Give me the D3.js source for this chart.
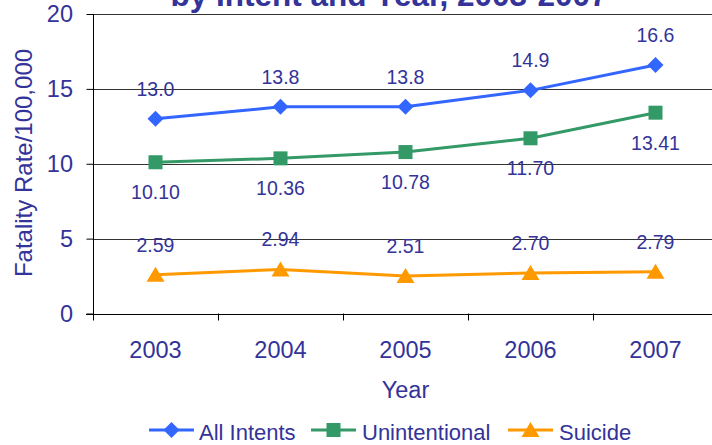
<!DOCTYPE html>
<html><head><meta charset="utf-8">
<script src="https://cdn.jsdelivr.net/npm/d3@7"></script>
<style>body{margin:0;background:#fff}svg{display:block;font-family:"Liberation Sans",Arial,sans-serif}</style>
</head><body><svg id="c" width="712" height="445"></svg>
<script>
const years = ["2003","2004","2005","2006","2007"];
const allIntents = [13.0, 13.8, 13.8, 14.9, 16.6];
const unintentional = [10.10, 10.36, 10.78, 11.70, 13.41];
const suicide = [2.59, 2.94, 2.51, 2.70, 2.79];
const allLabels = ["13.0","13.8","13.8","14.9","16.6"];
const unLabels = ["10.10","10.36","10.78","11.70","13.41"];
const suLabels = ["2.59","2.94","2.51","2.70","2.79"];
const yTicks = [0,5,10,15,20];

const txt = "#333399";
const FF = "Liberation Sans, Arial, sans-serif";
const svg = d3.select("#c");
const x = d3.scaleBand().domain(years).range([93, 718]);
const y = d3.scaleLinear().domain([0,20]).range([313.5, 14]);

// title (partly cut off at top, as in the reference)
svg.append("text").attr("x",389).attr("y",6).attr("text-anchor","middle")
  .attr("font-weight","bold").attr("font-size",31.5).attr("fill",txt)
  .text("by Intent and Year, 2003-2007");

// gridlines
svg.append("g").selectAll("line").data(yTicks.filter(d=>d>0)).join("line")
  .attr("x1",93).attr("x2",712).attr("y1",d=>Math.round(y(d))+0.5).attr("y2",d=>Math.round(y(d))+0.5)
  .attr("stroke","#333").attr("stroke-width",1);

// y axis
const ya = svg.append("g").attr("transform","translate(93.5,0)")
  .call(d3.axisLeft(y).tickValues(yTicks).tickSize(7).tickPadding(13.5).tickFormat(d3.format("d")));
ya.select(".domain").remove();
ya.append("line").attr("y1",y(20)).attr("y2",320).attr("stroke","#000");
ya.selectAll(".tick line").attr("stroke","#000");
ya.selectAll(".tick text").attr("fill",txt).attr("font-size",23.5).attr("font-family",FF);

// x axis
const xa = svg.append("g").attr("transform",`translate(0,${Math.round(y(0))+0.5})`)
  .call(d3.axisBottom(x).tickSize(0).tickPadding(27));
xa.select(".domain").attr("d","M86,0H712").attr("stroke","#000");
xa.selectAll(".tick text").attr("fill",txt).attr("font-size",23.5).attr("font-family",FF);
svg.append("g").selectAll("line").data(years).join("line")
  .attr("x1",d=>Math.round(x(d))+0.5).attr("x2",d=>Math.round(x(d))+0.5)
  .attr("y1",y(0)).attr("y2",y(0)+7).attr("stroke","#000");

// axis titles
svg.append("text").attr("x",405.5).attr("y",398).attr("text-anchor","middle")
  .attr("font-size",23.5).attr("fill",txt).text("Year");
svg.append("text").attr("transform","translate(32,163) rotate(-90)").attr("text-anchor","middle")
  .attr("font-size",24).attr("fill",txt).text("Fatality Rate/100,000");

const cx = d => x(d) + x.bandwidth()/2;
const series = [
  {vals: allIntents, labels: allLabels, color:"#3366FF", sym:"diamond", off:-30},
  {vals: unintentional, labels: unLabels, color:"#339966", sym:"square", off:30},
  {vals: suicide, labels: suLabels, color:"#FF9900", sym:"triangle", off:-30}
];
function marker(g, sym, color){
  if(sym==="diamond") g.append("path").attr("d","M0,-8L8,0L0,8L-8,0Z").attr("fill",color);
  else if(sym==="square") g.append("rect").attr("x",-7).attr("y",-7).attr("width",14).attr("height",14).attr("fill",color);
  else g.append("path").attr("d","M0,-8L9,7L-9,7Z").attr("fill",color);
}
const line = d3.line().x((d,i)=>cx(years[i])).y(d=>y(d));
series.forEach(s=>{
  svg.append("path").datum(s.vals).attr("d",line).attr("fill","none").attr("stroke",s.color).attr("stroke-width",3);
  s.vals.forEach((v,i)=>{
    const g = svg.append("g").attr("transform",`translate(${cx(years[i])},${y(v)})`);
    marker(g, s.sym, s.color);
    svg.append("text").attr("x",cx(years[i])).attr("y",y(v)+s.off).attr("dy","0.35em")
      .attr("text-anchor","middle").attr("font-size",19.5).attr("fill",txt).text(s.labels[i]);
  });
});

// legend
const leg = [
  {name:"All Intents", color:"#3366FF", sym:"diamond", x:149, tx:199},
  {name:"Unintentional", color:"#339966", sym:"square", x:311, tx:362},
  {name:"Suicide", color:"#FF9900", sym:"triangle", x:508, tx:559}
];
leg.forEach(l=>{
  const ly = 430;
  svg.append("line").attr("x1",l.x).attr("x2",l.x+45).attr("y1",ly).attr("y2",ly).attr("stroke",l.color).attr("stroke-width",3);
  const g = svg.append("g").attr("transform",`translate(${l.x+22.5},${ly})`);
  marker(g, l.sym, l.color);
  svg.append("text").attr("x",l.tx).attr("y",440).attr("font-size",22).attr("fill",txt).text(l.name);
});
</script></body></html>
